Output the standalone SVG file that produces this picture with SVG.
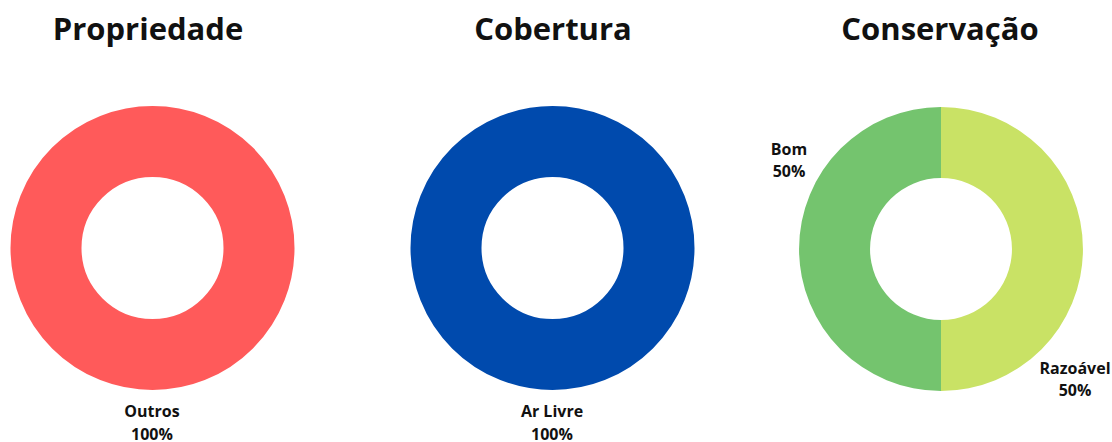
<svg xmlns="http://www.w3.org/2000/svg" width="1112" height="442" viewBox="0 0 1112 442">
<style>
.title{font-family:"Open Sans","Liberation Sans",sans-serif;font-weight:700;font-size:31px;fill:#111;text-anchor:middle}
.lbl{font-family:"Open Sans","Liberation Sans",sans-serif;font-weight:700;font-size:16px;fill:#111;text-anchor:middle}
</style>
<rect width="1112" height="442" fill="#fff"/>
<g id="propriedade">
<text class="title" x="148" y="40">Propriedade</text>
<circle cx="152.5" cy="248" r="106.5" fill="none" stroke="#FF5A5A" stroke-width="71"/>
<text class="lbl" x="152" y="417">Outros</text>
<text class="lbl" x="152" y="440">100%</text>
</g>
<g id="cobertura">
<text class="title" x="553" y="40">Cobertura</text>
<circle cx="552.5" cy="248" r="106.5" fill="none" stroke="#004AAD" stroke-width="71"/>
<text class="lbl" x="552" y="417">Ar Livre</text>
<text class="lbl" x="552" y="440">100%</text>
</g>
<g id="conservacao">
<text class="title" x="940" y="40">Conservação</text>
<path d="M941 107 A142 142 0 0 0 941 391 L941 320 A71 71 0 0 1 941 178 Z" fill="#74C46E"/>
<path d="M941 107 A142 142 0 0 1 941 391 L941 320 A71 71 0 0 0 941 178 Z" fill="#C9E265"/>
<text class="lbl" x="789" y="155">Bom</text>
<text class="lbl" x="789" y="177">50%</text>
<text class="lbl" x="1075" y="374">Razoável</text>
<text class="lbl" x="1075" y="396">50%</text>
</g>
</svg>
